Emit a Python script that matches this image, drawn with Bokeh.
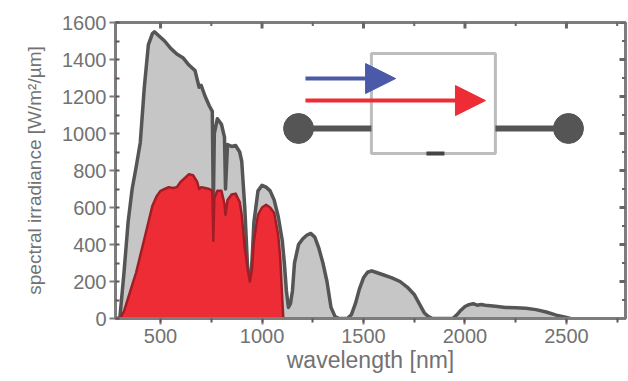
import numpy as np
from bokeh.plotting import figure
from bokeh.models import Range1d, SingleIntervalTicker, Arrow, NormalHead
from bokeh.embed import file_html
from bokeh.resources import INLINE

# ---- data ----
wavelength_full = [290, 300, 320, 340, 360, 380, 400, 420, 440, 460, 470, 490,
                   520, 550, 580, 610, 640, 670, 690, 700, 720, 740, 755, 760,
                   765, 780, 800, 815, 820, 830, 850, 870, 890, 900, 915, 930,
                   940, 950, 960, 980, 1000, 1020, 1040, 1060, 1080, 1100, 1110,
                   1120, 1130, 1140, 1150, 1160, 1180, 1200, 1220, 1240, 1260,
                   1280, 1300, 1320, 1340, 1360, 1380, 1400, 1420, 1440, 1460,
                   1480, 1500, 1520, 1540, 1560, 1600, 1640, 1680, 1720, 1750,
                   1780, 1800, 1820, 1840, 1900, 1940, 1960, 1980, 2000, 2020,
                   2040, 2060, 2080, 2100, 2150, 2200, 2250, 2300, 2350, 2400,
                   2450, 2500, 2520]
irradiance_full = [0, 10, 250, 520, 700, 820, 950, 1250, 1480, 1540, 1550, 1530,
                   1500, 1460, 1430, 1410, 1370, 1340, 1250, 1260, 1200, 1150,
                   1120, 600, 1000, 1080, 1050, 980, 700, 940, 930, 935, 900,
                   850, 600, 250, 180, 300, 520, 690, 720, 710, 690, 640, 550,
                   420, 300, 150, 60, 80, 150, 300, 400, 430, 450, 460, 440, 380,
                   300, 200, 60, 10, 0, 0, 0, 20, 80, 160, 220, 250, 258, 250,
                   235, 220, 200, 165, 130, 70, 30, 10, 0, 0, 0, 20, 45, 65, 75,
                   80, 72, 76, 72, 66, 60, 58, 55, 48, 35, 18, 5, 0]

wavelength_used = [300, 320, 340, 360, 380, 400, 420, 440, 460, 480, 500, 520,
                   540, 560, 580, 600, 620, 640, 660, 680, 690, 700, 720, 740,
                   755, 760, 765, 780, 800, 815, 820, 830, 850, 870, 890, 900,
                   915, 930, 940, 950, 960, 980, 1000, 1020, 1040, 1060, 1080,
                   1090, 1100, 1105]
irradiance_used = [0, 40, 110, 180, 250, 340, 430, 520, 610, 660, 690, 700, 710,
                   705, 710, 740, 760, 780, 775, 740, 700, 710, 705, 700, 690,
                   420, 650, 690, 690, 620, 560, 640, 670, 675, 630, 560, 380,
                   260, 200, 260, 420, 560, 600, 615, 600, 570, 450, 320, 100, 0]

x_ticks_interval = 500
y_ticks_interval = 200
x_min, x_max = 278, 2791
y_min, y_max = 0, 1600

# ---- inset diagram geometry (data units of the plot) ----
box = dict(left=1539, right=2150, bottom=892, top=1432)
blue_arrow = dict(x0=1214, x1=1658, y=1297)
red_arrow = dict(x0=1214, x1=2101, y=1178)
wire = dict(x_left=1180, x_right=2510, y=1027)

FONT = "Liberation Sans"
TXT = "#727272"
FRAME = "#7d7d7d"

p = figure(width=628, height=381, output_backend="svg", toolbar_location=None,
           x_range=Range1d(x_min, x_max), y_range=Range1d(y_min, y_max),
           min_border_left=115, min_border_right=3, min_border_top=22,
           min_border_bottom=63, background_fill_color="white",
           border_fill_color="white", outline_line_color=FRAME,
           outline_line_width=3)
p.xgrid.visible = False
p.ygrid.visible = False

# spectra
p.varea(x=wavelength_full, y1=0, y2=irradiance_full, fill_color="#c6c6c6")
p.line(x=wavelength_full, y=irradiance_full, line_color="#555555",
       line_width=3.5, line_join="round")
p.varea(x=wavelength_used, y1=0, y2=irradiance_used, fill_color="#ee2c36")
p.line(x=wavelength_used, y=irradiance_used, line_color="#a01e26",
       line_width=2.5, line_join="round")

# inset diagram
p.quad(left=[box["left"]], right=[box["right"]], bottom=[box["bottom"]],
       top=[box["top"]], fill_alpha=0, line_color="#bdbdbd", line_width=3)
p.segment(x0=[wire["x_left"], box["right"]], y0=[wire["y"], wire["y"]],
          x1=[box["left"], wire["x_right"]], y1=[wire["y"], wire["y"]],
          line_color="#555555", line_width=6)
p.scatter(x=[wire["x_left"], wire["x_right"]], y=[wire["y"], wire["y"]],
          size=30, fill_color="#555555", line_color="#555555")
p.rect(x=[(box["left"] + box["right"]) / 2 + 10], y=[box["bottom"]], width=18,
       height=4, width_units="screen", height_units="screen",
       fill_color="#444444", line_color=None)
p.add_layout(Arrow(end=NormalHead(size=30, fill_color="#4a5aa8",
                                  line_color="#4a5aa8"),
                   x_start=blue_arrow["x0"], y_start=blue_arrow["y"],
                   x_end=blue_arrow["x1"], y_end=blue_arrow["y"],
                   line_color="#4a5aa8", line_width=4))
p.add_layout(Arrow(end=NormalHead(size=30, fill_color="#ee2c36",
                                  line_color="#ee2c36"),
                   x_start=red_arrow["x0"], y_start=red_arrow["y"],
                   x_end=red_arrow["x1"], y_end=red_arrow["y"],
                   line_color="#ee2c36", line_width=4))

# inward ticks on the top and right frame edges (half of each dash is clipped)
top_major = np.arange(x_ticks_interval, x_max, x_ticks_interval)
top_minor = np.arange(x_ticks_interval / 2, x_max, x_ticks_interval)
right_major = np.arange(y_min, y_max + 1, y_ticks_interval)
right_minor = np.arange(y_ticks_interval / 2, y_max, y_ticks_interval)
p.scatter(x=top_major, y=[y_max] * len(top_major), marker="dash", size=12,
          angle=np.pi / 2, line_color="#666666", line_width=3)
p.scatter(x=top_minor, y=[y_max] * len(top_minor), marker="dash", size=7,
          angle=np.pi / 2, line_color="#666666", line_width=2)
p.scatter(x=[x_max] * len(right_major), y=right_major, marker="dash", size=12,
          line_color="#666666", line_width=3)
p.scatter(x=[x_max] * len(right_minor), y=right_minor, marker="dash", size=7,
          line_color="#666666", line_width=2)

# axes
p.xaxis.ticker = SingleIntervalTicker(interval=x_ticks_interval,
                                      num_minor_ticks=2)
p.yaxis.ticker = SingleIntervalTicker(interval=y_ticks_interval,
                                      num_minor_ticks=2)
for ax in (p.xaxis[0], p.yaxis[0]):
    ax.axis_line_color = FRAME
    ax.axis_line_width = 3
    ax.major_tick_line_color = FRAME
    ax.major_tick_line_width = 2
    ax.minor_tick_line_color = "#6b5058"
    ax.minor_tick_line_width = 2
    ax.major_label_text_font = FONT
    ax.major_label_text_font_size = "20px"
    ax.major_label_text_color = TXT
    ax.axis_label_text_font = FONT
    ax.axis_label_text_font_style = "normal"
    ax.axis_label_text_color = TXT

p.xaxis.axis_label = "wavelength [nm]"
p.xaxis.axis_label_text_font_size = "23px"
p.xaxis.major_tick_out = 6
p.xaxis.major_tick_in = 0
p.xaxis.minor_tick_out = 4
p.xaxis.minor_tick_in = 0
p.xaxis.major_label_standoff = 4
p.xaxis.axis_label_standoff = 1

p.yaxis.axis_label = "spectral irradiance [W/m²/µm]"
p.yaxis.axis_label_text_font_size = "19px"
p.yaxis.major_tick_out = 6
p.yaxis.major_tick_in = 0
p.yaxis.minor_tick_out = 0
p.yaxis.minor_tick_in = 4
p.yaxis.major_label_standoff = 3
p.yaxis.axis_label_standoff = 14

open("out.html", "w").write(file_html(p, INLINE))
